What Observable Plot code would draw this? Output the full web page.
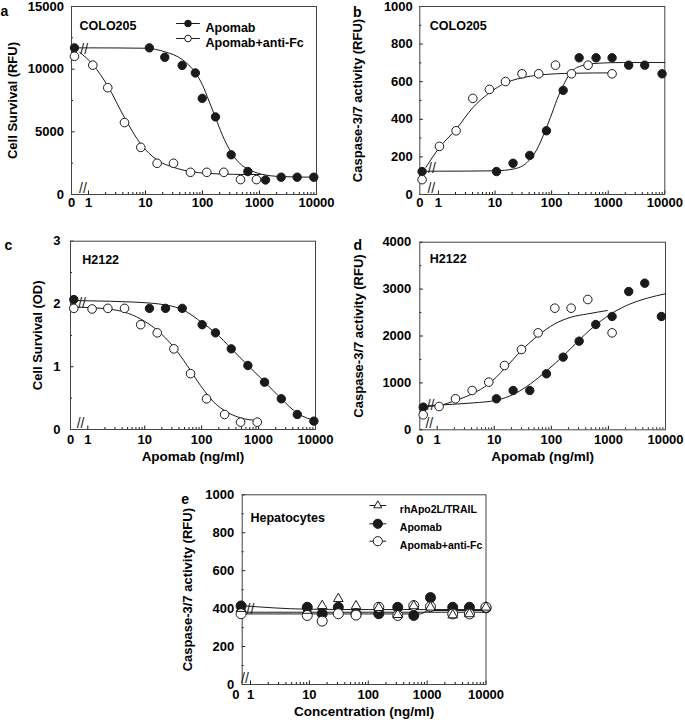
<!DOCTYPE html>
<html><head><meta charset="utf-8">
<script src="https://cdn.jsdelivr.net/npm/d3@7"></script>
<script src="https://cdn.jsdelivr.net/npm/@observablehq/plot@0.6"></script>
<style>
html,body{margin:0;padding:0;background:#fff;}
#fig{position:relative;width:685px;height:726px;overflow:hidden;background:#fff;}
</style></head><body><div id="fig"></div>
<script>
// ---------- tick labels ----------
const X_TICK_VALUES = [0, 1, 10, 100, 1000, 10000];
const X_TICK_LABELS = ["0", "1", "10", "100", "1000", "10000"];
const X_MAJOR = [1, 10, 100, 1000, 10000];
const MINOR_MULT = [2, 3, 4, 5, 6, 7, 8, 9];
const DECADES = [1, 10, 100, 1000];

// ---------- panel a : COLO205 cell survival ----------
const aConcApomab = [0, 11.7, 21.8, 44, 75, 99, 169, 318, 624, 1275, 2400, 4580, 8970];
const aSurvApomab = [11700, 11700, 10950, 10300, 9700, 7670, 6190, 3170, 1830, 1160, 1380, 1380, 1380];
const aConcAntiFc = [0, 1.19, 2.18, 4.28, 8.28, 16, 31, 61.6, 119, 237, 464, 885];
const aSurvAntiFc = [11030, 10320, 8520, 5740, 3760, 2490, 2490, 1770, 1770, 1770, 1190, 1190];
const aFitApomabConc = [0, 1, 10, 22, 44, 75, 99, 130, 169, 220, 318, 464, 624, 1050, 2400, 10000];
const aFitApomabVal = [11700, 11700, 11670, 11380, 10770, 9710, 8780, 7460, 6140, 4810, 3360, 2430, 2040, 1640, 1430, 1380];
const aFitAntiFcConc = [0.7, 1.19, 2.18, 4.28, 8.28, 16, 31, 61.6, 119, 350, 1050];
const aFitAntiFcVal = [11350, 10370, 8650, 6140, 4020, 2750, 2170, 1830, 1690, 1610, 1590];

// ---------- panel b : COLO205 caspase ----------
const bConcApomab = [0, 10.6, 20.8, 41, 81, 160, 306, 610, 1170, 2300, 4420, 8950];
const bCaspApomab = [122, 122, 166, 208, 339, 554, 727, 727, 727, 688, 688, 642];
const bConcAntiFc = [0, 1.04, 2.05, 4.05, 7.96, 15.3, 30, 59, 117, 224, 441, 1170];
const bCaspAntiFc = [79, 256, 339, 511, 559, 601, 642, 642, 688, 642, 688, 642];
const bFitApomabConc = [0, 1, 10, 21.4, 36.9, 55.4, 72.7, 95, 125, 164, 215, 323, 635, 1880, 10000];
const bFitApomabVal = [124, 124, 126, 136, 171, 242, 321, 409, 506, 586, 647, 683, 698, 702, 702];
const bFitAntiFcConc = [0.6, 1.04, 2.05, 4.05, 7.96, 15.3, 30, 59, 117, 250, 1170];
const bFitAntiFcVal = [145, 250, 347, 462, 541, 593, 621, 635, 642, 645, 647];

// ---------- panel c : H2122 cell survival ----------
const cConcApomab = [0, 12.1, 23.2, 45.6, 102, 175, 331, 649, 1275, 2505, 4790, 9370];
const cODApomab = [2.07, 1.93, 1.93, 1.93, 1.67, 1.54, 1.285, 1.02, 0.754, 0.489, 0.239, 0.133];
const cConcAntiFc = [0, 1.19, 2.25, 4.42, 8.5, 16.6, 32.5, 63.8, 122, 253, 483, 948];
const cODAntiFc = [1.93, 1.92, 1.93, 1.93, 1.67, 1.54, 1.285, 0.89, 0.489, 0.239, 0.117, 0.117];
const cFitApomabConc = [0, 1, 6.4, 24.8, 48.7, 102, 175, 331, 649, 1275, 2505, 4790, 10000];
const cFitApomabVal = [2.055, 2.05, 2.03, 1.98, 1.90, 1.70, 1.54, 1.29, 1.02, 0.76, 0.49, 0.26, 0.14];
const cFitAntiFcConc = [0, 1.19, 2.25, 4.42, 8.5, 16.6, 32.5, 55.8, 95.7, 164, 281, 483, 948];
const cFitAntiFcVal = [1.95, 1.94, 1.92, 1.87, 1.76, 1.58, 1.31, 1.02, 0.70, 0.435, 0.276, 0.186, 0.143];

// ---------- panel d : H2122 caspase ----------
const dConcApomab = [0, 10.9, 21.4, 41.9, 82, 161, 307, 600, 1160, 2270, 4330, 8470];
const dCaspApomab = [483, 661, 838, 838, 1194, 1549, 1890, 2245, 2416, 2948, 3126, 2416];
const dConcAntiFc = [0, 1.08, 2.09, 4.1, 8.0, 15.1, 29.9, 58.6, 115, 222, 435, 1160];
const dCaspAntiFc = [320, 497, 661, 838, 1016, 1371, 1712, 2067, 2593, 2593, 2778, 2067];
const dFitApomabConc = [0, 1.14, 4.4, 10.9, 22, 43, 84, 165, 323, 634, 1240, 2430, 4760, 9950];
const dFitApomabVal = [505, 530, 575, 630, 760, 980, 1265, 1584, 1940, 2259, 2508, 2686, 2806, 2900];
const dFitAntiFcConc = [0.7, 1.08, 2.09, 4.1, 8.0, 15.1, 29.9, 58.6, 115, 222, 435, 949];
const dFitAntiFcVal = [500, 519, 625, 767, 980, 1300, 1691, 2011, 2259, 2401, 2472, 2543];

// ---------- panel e : hepatocytes caspase ----------
const eConc = [0, 9.2, 16.5, 31, 62, 151, 317, 593, 1140, 2720, 5230, 10000];
const eTrail = [400, 390, 415, 452, 414, 405, 368, 414, 407, 366, 372, 407];
const eApomab = [414, 407, 373, 407, 373, 373, 407, 364, 458, 407, 407, 404];
const eAntiFc = [373, 364, 334, 373, 366, 407, 364, 416, 410, 372, 372, 407];
const eFitTrailConc = [0, 9.2, 100, 1000, 10000];
const eFitTrailVal = [416, 397, 395, 395, 395];
const eFitApomabConc = [0, 9.2, 100, 770, 1070, 10000];
const eFitApomabVal = [372, 372, 372, 372, 390, 390];
const eFitAntiFcConc = [0, 9.2, 100, 1000, 10000];
const eFitAntiFcVal = [381, 381, 381, 381, 381];

// ---------- helpers ----------
const INK = "#1a1a1a";
const FONT = "'Liberation Sans', Arial, Helvetica, sans-serif";
const pairs = (cs, vs) => cs.map((c, i) => ({c, v: vs[i]}));
const LINE_SHAPE = {draw(context, l) { context.moveTo(0, 0); context.lineTo(0, -l); }};
const MINOR = [];
for (const dec of DECADES) for (const m of MINOR_MULT) MINOR.push(dec * m);

const filled = {fill: INK, r: 4.2};
const open = {fill: "white", r: 4.3};

const panels = [
  {letter: "a", left: 0, top: 0, width: 340, height: 225, ml: 71, mr: 24, mt: 6, mb: 31,
   uMin: -0.298, uZero: -0.246, uZeroLabel: -0.298, uBreak: -0.096, curveBreak: {u: -0.075, v: 11600},
   yMax: 15000, yMajor: [0, 5000, 10000, 15000], yMinor: [2500, 7500, 12500], yPad: 7.5,
   yLabel: "Cell Survival (RFU)", yLabDx: -58.5, xTickDy: 12, xLabel: null,
   name: "COLO205", nameDx: 8, nameDy: 15, letterDx: -67, letterDy: 0,
   fits: [pairs(aFitApomabConc, aFitApomabVal), pairs(aFitAntiFcConc, aFitAntiFcVal)],
   series: [{pts: pairs(aConcApomab, aSurvApomab), ...filled}, {pts: pairs(aConcAntiFc, aSurvAntiFc), ...open}],
   legend: {mx: 116.5, tx: 134, len: 23, fontSize: 12.5, rows: [
     {label: "Apomab", y: 17, fill: INK, r: 3.3, symbol: "circle"},
     {label: "Apomab+anti-Fc", y: 32, fill: "white", r: 3.3, symbol: "circle"}]}},
  {letter: "b", left: 340, top: 0, width: 345, height: 225, ml: 79.3, mr: 20.7, mt: 6, mb: 31,
   uMin: -0.330, uZero: -0.29, uZeroLabel: -0.330, uBreak: -0.127, curveBreak: {u: -0.115, v: 140},
   yMax: 1000, yMajor: [0, 200, 400, 600, 800, 1000], yMinor: [100, 300, 500, 700, 900], yPad: 7,
   yLabel: "Caspase-3/7 activity (RFU)", yLabDx: -61.8, xTickDy: 12, xLabel: null,
   name: "COLO205", nameDx: 10, nameDy: 15, letterDx: -62.5, letterDy: 1,
   fits: [pairs(bFitApomabConc, bFitApomabVal), pairs(bFitAntiFcConc, bFitAntiFcVal)],
   series: [{pts: pairs(bConcApomab, bCaspApomab), ...filled}, {pts: pairs(bConcAntiFc, bCaspAntiFc), ...open}]},
  {letter: "c", left: 0, top: 228, width: 340, height: 250, ml: 70, mr: 25, mt: 12.7, mb: 49,
   uMin: -0.304, uZero: -0.246, uZeroLabel: -0.304, uBreak: -0.128, curveBreak: {u: -0.10, v: 2.0},
   yMax: 3, yMajor: [0, 1, 2, 3], yMinor: [0.5, 1.5, 2.5], yPad: 10,
   yLabel: "Cell Survival (OD)", yLabDx: -32.5, xTickDy: 14.5, xLabel: "Apomab (ng/ml)",
   name: "H2122", nameDx: 11.7, nameDy: 14.3, letterDx: -62, letterDy: -0.7,
   fits: [pairs(cFitApomabConc, cFitApomabVal), pairs(cFitAntiFcConc, cFitAntiFcVal)],
   series: [{pts: pairs(cConcApomab, cODApomab), ...filled}, {pts: pairs(cConcAntiFc, cODAntiFc), ...open}]},
  {letter: "d", left: 340, top: 228, width: 345, height: 250, ml: 79.3, mr: 20, mt: 13.7, mb: 48.7,
   uMin: -0.305, uZero: -0.245, uZeroLabel: -0.305, uBreak: -0.138, curveBreak: {u: -0.117, v: 518},
   yMax: 4000, yMajor: [0, 1000, 2000, 3000, 4000], yMinor: [500, 1500, 2500, 3500], yPad: 8.5,
   yLabel: "Caspase-3/7 activity (RFU)", yLabDx: -61, xTickDy: 14.5, xLabel: "Apomab (ng/ml)",
   name: "H2122", nameDx: 10, nameDy: 12, letterDx: -62, letterDy: -2,
   fits: [pairs(dFitApomabConc, dFitApomabVal), pairs(dFitAntiFcConc, dFitAntiFcVal)],
   series: [{pts: pairs(dConcApomab, dCaspApomab), ...filled}, {pts: pairs(dConcAntiFc, dCaspAntiFc), ...open}]},
  {letter: "e", left: 150, top: 484, width: 370, height: 242, ml: 91.7, mr: 34.5, mt: 10.3, mb: 42,
   uMin: -0.141, uZero: -0.16, uZeroLabel: -0.25, uBreak: -0.095, curveBreak: {u: 0.0, v: 393},
   yMax: 1000, yMajor: [0, 200, 400, 600, 800, 1000], yMinor: [100, 300, 500, 700, 900], yPad: 8,
   yLabel: "Caspase-3/7 activity (RFU)", yLabDx: -54.2, xTickDy: 14, xLabel: "Concentration (ng/ml)",
   name: "Hepatocytes", nameDx: 8.3, nameDy: 18.7, letterDx: -57, letterDy: -1,
   fits: [pairs(eFitTrailConc, eFitTrailVal), pairs(eFitApomabConc, eFitApomabVal), pairs(eFitAntiFcConc, eFitAntiFcVal)],
   series: [
     {pts: pairs(eConc, eApomab), fill: INK, r: 5},
     {pts: pairs(eConc, eAntiFc), fill: "white", r: 5},
     {pts: pairs(eConc, eTrail), fill: "none", r: 3.6, symbol: "triangle"}],
   legend: {mx: 135.6, tx: 157.6, len: 16, fontSize: 10.5, rows: [
     {label: "rhApo2L/TRAIL", y: 10.7, fill: "white", r: 3, symbol: "triangle"},
     {label: "Apomab", y: 29, fill: INK, r: 4.6, symbol: "circle"},
     {label: "Apomab+anti-Fc", y: 46.4, fill: "white", r: 4.6, symbol: "circle"}]}}
];

function makePanel(p) {
  const innerW = p.width - p.ml - p.mr;
  const innerH = p.height - p.mt - p.mb;
  const pos = c => c === 0 ? p.uZero : Math.log10(c);
  const labelPos = c => c === 0 ? p.uZeroLabel : Math.log10(c);
  const marks = [
    Plot.tickX(X_MAJOR, {x: pos, insetTop: innerH - 3.5, stroke: INK, strokeWidth: 1}),
    Plot.tickX(MINOR, {x: pos, insetTop: innerH - 2, stroke: INK, strokeWidth: 1}),
    Plot.tickY(p.yMajor, {y: d => d, insetRight: innerW - 3.5, stroke: INK, strokeWidth: 1}),
    Plot.tickY(p.yMinor, {y: d => d, insetRight: innerW - 2, stroke: INK, strokeWidth: 1}),
    Plot.frame({stroke: "#444", strokeWidth: 1}),
    Plot.axisY(p.yMajor, {tickSize: 0, tickPadding: p.yPad, tickFormat: d => String(d), label: null, fontSize: 13, fill: "#000"}),
    Plot.text(X_TICK_VALUES, {x: labelPos, text: (d, i) => X_TICK_LABELS[i], frameAnchor: "bottom", dy: p.xTickDy, fontSize: 13, fill: "#000"}),
    Plot.text(["//"], {text: d => d, x: () => p.uBreak, frameAnchor: "bottom", dy: -2, fontSize: 14, fontWeight: "normal", fill: INK}),
    Plot.text([p.yLabel], {text: d => d, frameAnchor: "left", dx: p.yLabDx, rotate: -90, textAnchor: "middle", fontSize: 13, fill: "#000"}),
    Plot.text([p.name], {text: d => d, frameAnchor: "top-left", dx: p.nameDx, dy: p.nameDy, textAnchor: "start", fontSize: 12.5, fill: "#000"}),
    Plot.text([p.letter], {text: d => d, frameAnchor: "top-left", dx: p.letterDx, dy: p.letterDy, textAnchor: "middle", fontSize: 14, fill: "#000"})
  ];
  if (p.xLabel) marks.push(Plot.text([p.xLabel], {text: d => d, frameAnchor: "bottom", dy: 31.5, fontSize: 13.5, fill: "#000"}));
  for (const f of p.fits) {
    marks.push(Plot.line(f, {x: d => pos(d.c), y: d => d.v, curve: "monotone-x", stroke: INK, strokeWidth: 1}));
  }
  marks.push(Plot.text(["//"], {text: d => d, x: () => p.curveBreak.u, y: () => p.curveBreak.v, fontSize: 14, fontWeight: "normal", fill: INK}));
  for (const s of p.series) {
    marks.push(Plot.dot(s.pts, {x: d => pos(d.c), y: d => d.v, r: s.r, symbol: s.symbol || "circle", fill: s.fill, stroke: INK, strokeWidth: 1}));
  }
  if (p.legend) {
    const L = p.legend;
    for (const row of L.rows) {
      marks.push(Plot.vector([0], {frameAnchor: "top-left", dx: L.mx, dy: row.y, rotate: 90, length: L.len, anchor: "middle", shape: LINE_SHAPE, stroke: INK, strokeWidth: 1}));
      marks.push(Plot.dot([0], {frameAnchor: "top-left", dx: L.mx, dy: row.y, r: row.r, symbol: row.symbol, fill: row.fill, stroke: INK, strokeWidth: 1}));
      marks.push(Plot.text([row.label], {text: d => d, frameAnchor: "top-left", dx: L.tx, dy: row.y, textAnchor: "start", fontSize: L.fontSize, fill: "#000"}));
    }
  }
  const svg = Plot.plot({
    width: p.width, height: p.height,
    marginLeft: p.ml, marginRight: p.mr, marginTop: p.mt, marginBottom: p.mb,
    x: {type: "linear", domain: [p.uMin, 4], axis: null},
    y: {type: "linear", domain: [0, p.yMax]},
    style: {fontFamily: FONT, fontSize: "13px", fontWeight: "bold", color: "#000", background: "transparent", overflow: "visible"},
    marks
  });
  svg.style.position = "absolute";
  svg.style.left = p.left + "px";
  svg.style.top = p.top + "px";
  svg.style.maxWidth = "none";
  svg.style.overflow = "visible";
  return svg;
}

const fig = document.getElementById("fig");
for (const p of panels) fig.appendChild(makePanel(p));
</script></body></html>
